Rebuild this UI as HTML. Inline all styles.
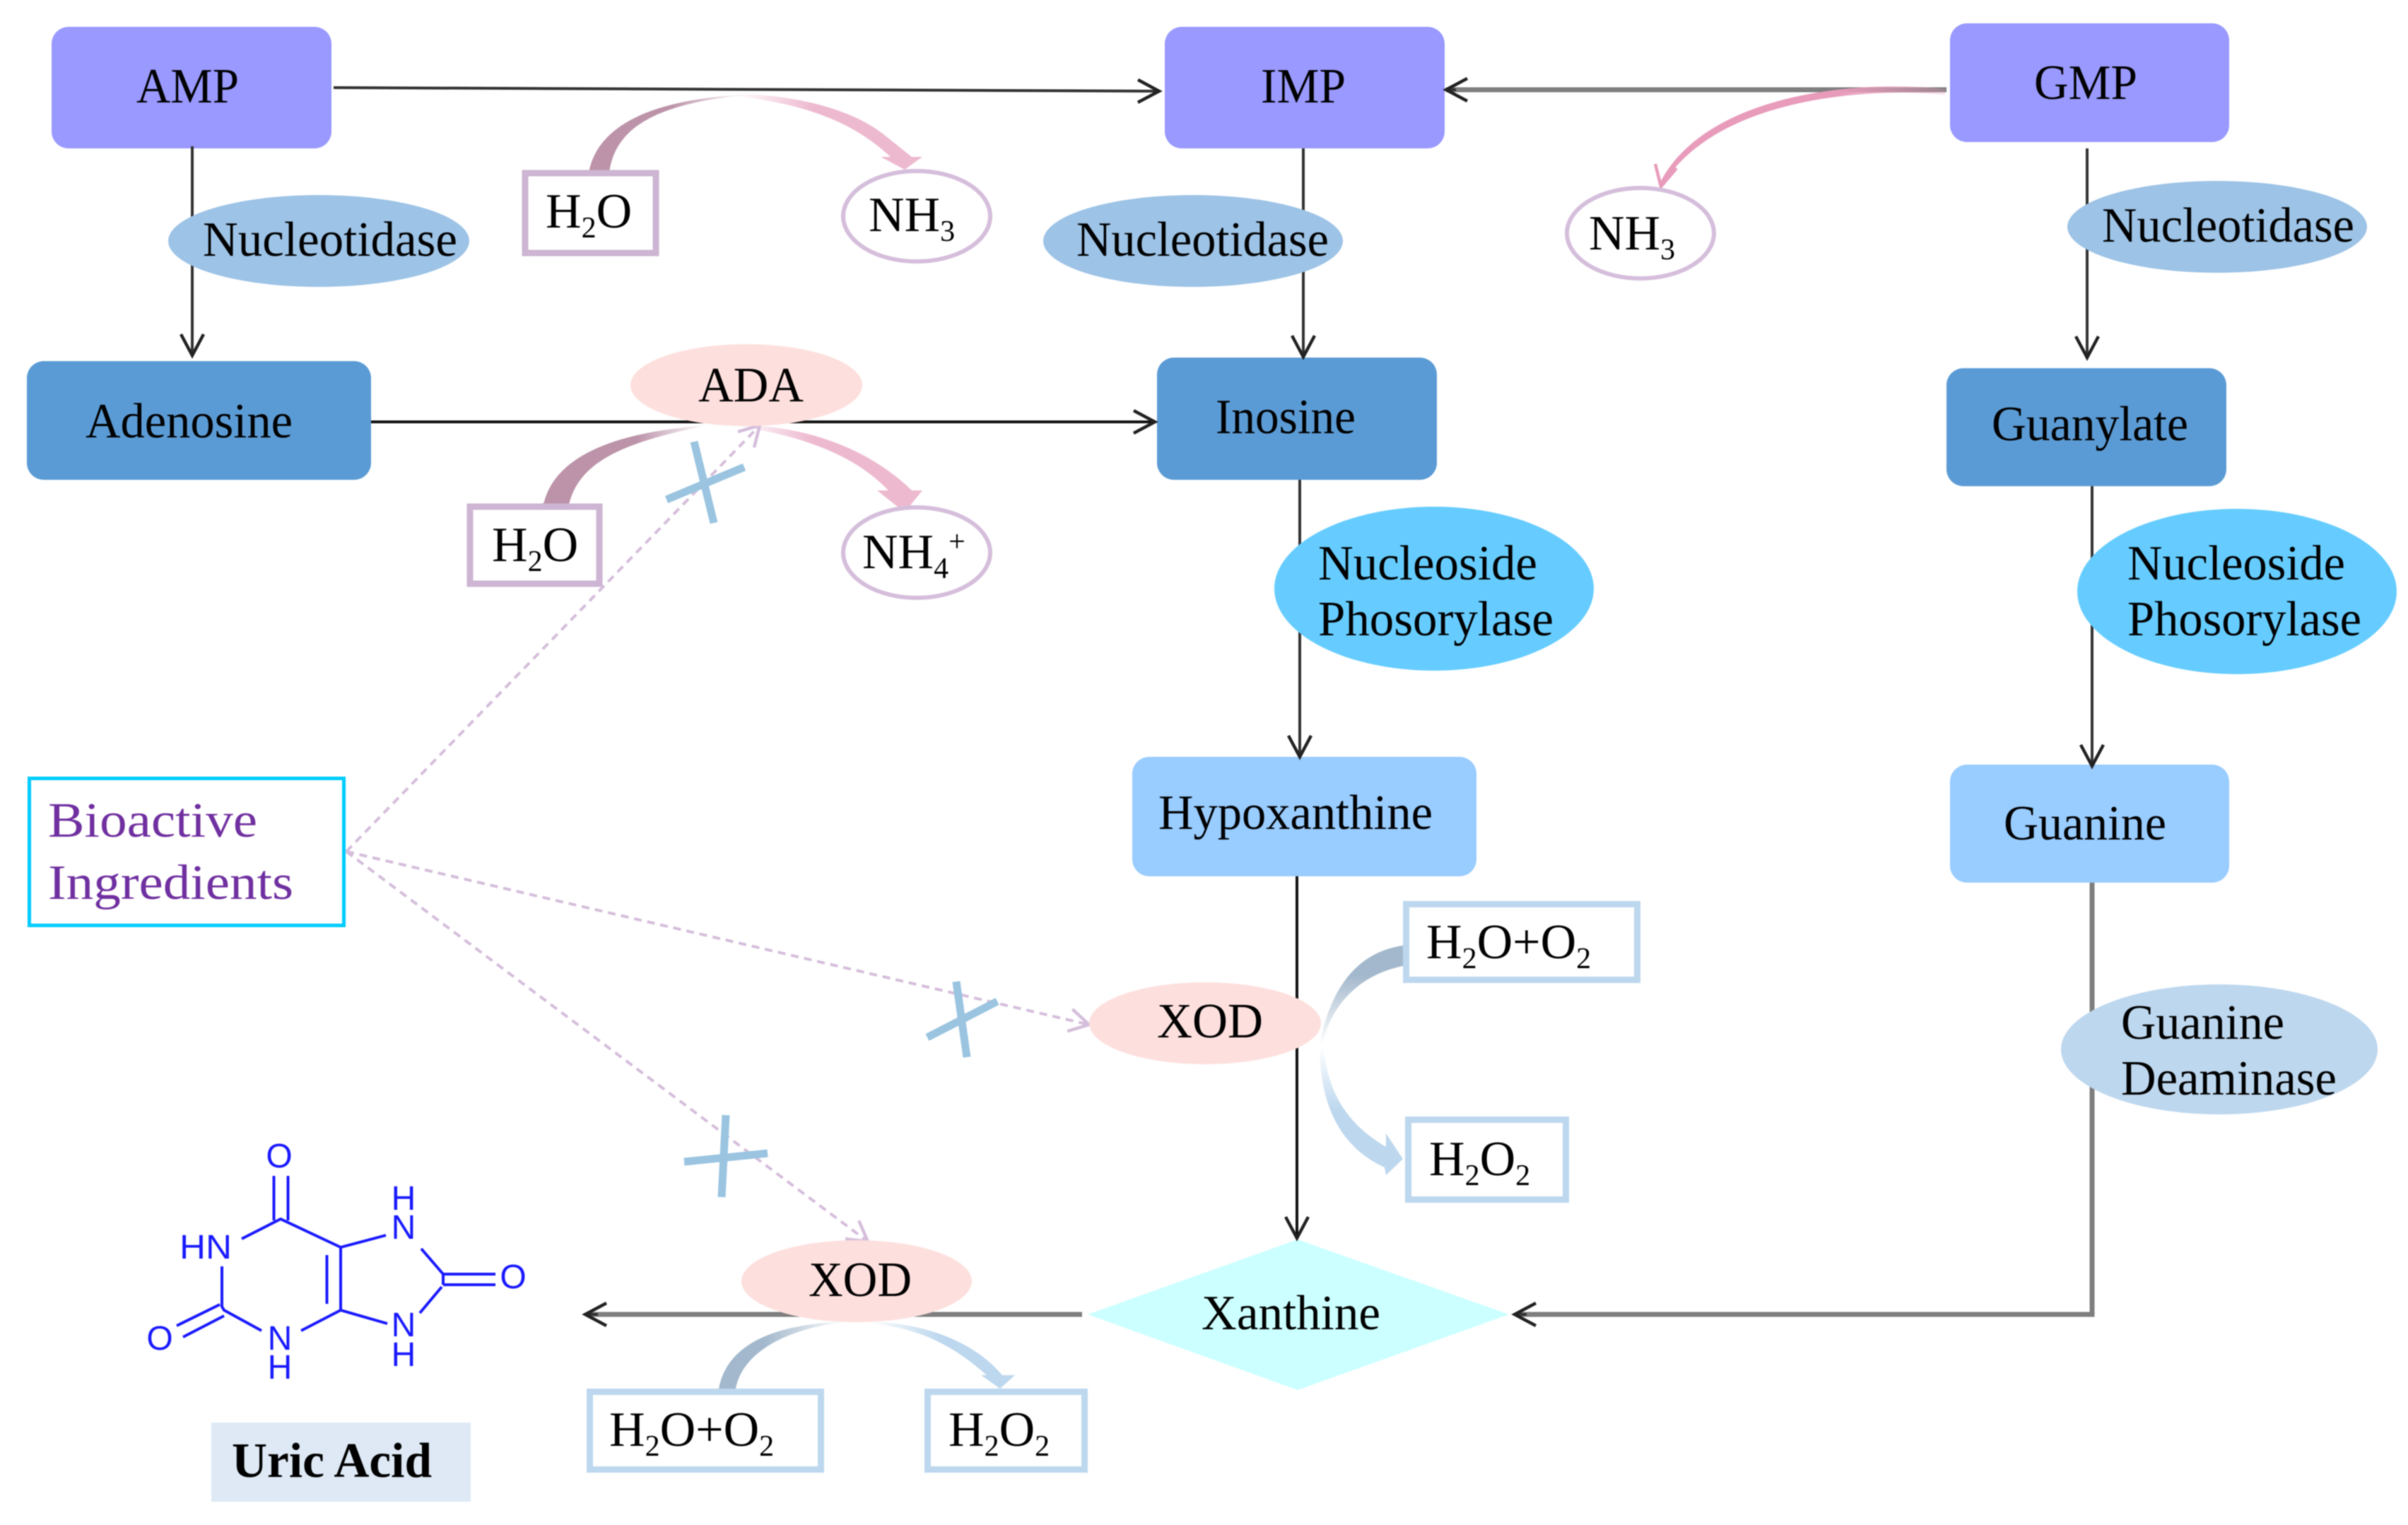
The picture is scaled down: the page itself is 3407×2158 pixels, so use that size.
<!DOCTYPE html>
<html><head><meta charset="utf-8"><style>
html,body{margin:0;padding:0;background:#fff}
svg{display:block;filter:blur(0.8px)}
text{font-family:"Liberation Serif",serif;font-size:70px;fill:#000}
.m{font-family:"Liberation Sans",sans-serif;font-size:48px;fill:#1a1aff;text-anchor:middle}
.s{font-size:42px}
.v{fill:#7030A0}
.l{stroke:#333;stroke-width:4;fill:none}
.g{stroke:#7f7f7f;stroke-width:7;fill:none}
.d{stroke:#D5BEDB;stroke-width:4;stroke-dasharray:11 8;fill:none}
.x{stroke:#9AC4E0;stroke-width:11;fill:none}
.b{stroke:#1a1aff;stroke-width:4;fill:none}
.cw{fill:#fff;stroke:#D5BEDB;stroke-width:6}
.pb{fill:#fff;stroke:#CDB5D3;stroke-width:9}
.bb{fill:#fff;stroke:#BDD7EE;stroke-width:9}
</style></head><body>
<svg width="3407" height="2158" viewBox="0 0 3407 2158" xmlns="http://www.w3.org/2000/svg">
<defs>
<marker id="a" markerUnits="userSpaceOnUse" markerWidth="44" markerHeight="44" refX="38" refY="22" orient="auto"><path d="M8,6 L38,22 L8,38" fill="none" stroke="#222" stroke-width="4.5"/></marker>
<marker id="da" markerUnits="userSpaceOnUse" markerWidth="44" markerHeight="44" refX="38" refY="22" orient="auto"><path d="M10,6 L38,22 L10,38" fill="none" stroke="#D5BEDB" stroke-width="4.5"/></marker>
<linearGradient id="p1" gradientUnits="userSpaceOnUse" x1="950" y1="0" x2="1060" y2="0"><stop offset="0" stop-color="#BC93A9"/><stop offset="1" stop-color="#BC93A9" stop-opacity="0"/></linearGradient>
<linearGradient id="p2" gradientUnits="userSpaceOnUse" x1="1040" y1="0" x2="1150" y2="0"><stop offset="0" stop-color="#EDB9CF" stop-opacity="0"/><stop offset="1" stop-color="#EDB9CF"/></linearGradient>
<linearGradient id="p3" gradientUnits="userSpaceOnUse" x1="900" y1="0" x2="1000" y2="0"><stop offset="0" stop-color="#BC93A9"/><stop offset="1" stop-color="#BC93A9" stop-opacity="0"/></linearGradient>
<linearGradient id="g1" gradientUnits="userSpaceOnUse" x1="0" y1="1380" x2="0" y2="1478"><stop offset="0" stop-color="#A3B8CC"/><stop offset="1" stop-color="#A3B8CC" stop-opacity="0"/></linearGradient>
<linearGradient id="g2" gradientUnits="userSpaceOnUse" x1="0" y1="1482" x2="0" y2="1570"><stop offset="0" stop-color="#BDD7EE" stop-opacity="0"/><stop offset="1" stop-color="#BDD7EE"/></linearGradient>
<linearGradient id="g3" gradientUnits="userSpaceOnUse" x1="1080" y1="0" x2="1200" y2="0"><stop offset="0" stop-color="#A3B8CC"/><stop offset="1" stop-color="#A3B8CC" stop-opacity="0"/></linearGradient>
<linearGradient id="g4" gradientUnits="userSpaceOnUse" x1="1230" y1="0" x2="1330" y2="0"><stop offset="0" stop-color="#BDD7EE" stop-opacity="0"/><stop offset="1" stop-color="#BDD7EE"/></linearGradient>
<linearGradient id="p4" gradientUnits="userSpaceOnUse" x1="2750" y1="0" x2="2600" y2="0"><stop offset="0" stop-color="#E89BBB" stop-opacity="0.3"/><stop offset="1" stop-color="#E89BBB"/></linearGradient>
</defs>

<!-- boxes -->
<rect x="73" y="38" width="396" height="172" rx="24" fill="#9999FF"/>
<rect x="1648" y="38" width="396" height="172" rx="24" fill="#9999FF"/>
<rect x="2759" y="33" width="395" height="168" rx="24" fill="#9999FF"/>
<rect x="38" y="511" width="487" height="168" rx="24" fill="#5B9BD5"/>
<rect x="1637" y="506" width="396" height="173" rx="24" fill="#5B9BD5"/>
<rect x="2754" y="521" width="396" height="167" rx="24" fill="#5B9BD5"/>
<rect x="1602" y="1071" width="487" height="169" rx="24" fill="#99CCFF"/>
<rect x="2759" y="1082" width="395" height="167" rx="24" fill="#99CCFF"/>
<polygon points="1539,1860 1836,1754 2135,1860 1836,1967" fill="#CCFFFF"/>

<!-- connector lines -->
<path class="l" d="M472,124 L1640,129" marker-end="url(#a)"/>
<path class="g" d="M2754,127 L2046,127"/>
<path class="l" d="M2060,127 L2046,127" marker-end="url(#a)"/>
<path class="l" d="M272,207 V503" marker-end="url(#a)"/>
<path class="l" d="M1844,210 V505" marker-end="url(#a)"/>
<path class="l" d="M2953,210 V506" marker-end="url(#a)"/>
<path class="l" style="stroke:#111" d="M525,597 H1634" marker-end="url(#a)"/>
<path class="l" d="M1839,679 V1071" marker-end="url(#a)"/>
<path class="l" d="M2960,688 V1084" marker-end="url(#a)"/>
<path class="l" style="stroke:#111" d="M1835,1240 V1752" marker-end="url(#a)"/>
<path class="g" d="M2960,1249 V1860 H2146"/>
<path class="l" d="M2160,1860 H2143" marker-end="url(#a)"/>
<path class="g" d="M1531,1860 H832"/>
<path class="l" d="M846,1860 H828" marker-end="url(#a)"/>

<!-- curved bands -->
<path fill="url(#p1)" d="M833,245 C842,190 900,140 1060,134 C940,145 870,175 862,245Z"/>
<path fill="url(#p2)" d="M1040,133 C1110,133 1200,150 1250,190 L1290,222 L1305,222 L1280,240 L1246,222 L1260,222 C1225,190 1170,150 1040,136Z"/>
<path fill="url(#p3)" d="M767,726 C775,650 860,612 1000,602 C890,625 812,650 803,726Z"/>
<path fill="url(#p2)" d="M1050,602 C1130,602 1225,630 1290,694 L1305,694 L1280,725 L1241,694 L1257,694 C1215,650 1150,620 1050,604Z"/>
<path fill="#BC93A9" d="M767,712 H803 V726 H767Z"/>
<path fill="url(#p4)" d="M2752,126 C2630,112 2410,132 2347,262 L2351,264 C2420,146 2620,122 2752,134Z"/>
<path fill="none" stroke="#E89BBB" stroke-width="4.5" d="M2342,232 L2350,264 L2372,238"/>
<path fill="url(#g1)" d="M1985,1338 C1930,1346 1885,1385 1867,1478 L1871,1478 C1885,1415 1930,1378 1985,1367Z"/>
<path fill="url(#g2)" d="M1867,1482 C1868,1570 1900,1625 1959,1652 L1961,1663 L1985,1640 L1961,1604 L1961,1623 C1905,1590 1878,1545 1873,1482Z"/>
<path fill="url(#g3)" d="M1017,1965 C1028,1905 1090,1873 1200,1870 C1110,1880 1050,1915 1041,1965Z"/>
<path fill="url(#g4)" d="M1230,1870 C1310,1872 1380,1900 1418,1946 L1436,1946 L1415,1965 L1388,1946 L1396,1946 C1350,1905 1300,1878 1230,1873Z"/>

<!-- dashed inhibition lines -->
<path class="d" d="M490,1205 L1075,602" marker-end="url(#da)"/>
<path class="d" d="M490,1205 L1541,1450" marker-end="url(#da)"/>
<path class="d" d="M490,1205 L1228,1757" marker-end="url(#da)"/>
<path class="x" d="M982,625 L1010,740 M943,707 L1053,661"/>
<path class="x" d="M1353,1389 L1368,1496 M1312,1468 L1411,1417"/>
<path class="x" d="M1027,1578 L1021,1694 M968,1644 L1086,1632"/>

<!-- ellipses -->
<ellipse cx="451" cy="341" rx="213" ry="65" fill="#9DC3E6"/>
<ellipse cx="1688" cy="341" rx="212" ry="65" fill="#9DC3E6"/>
<ellipse cx="3137" cy="321" rx="212" ry="65" fill="#9DC3E6"/>
<ellipse cx="1056" cy="545" rx="164" ry="58" fill="#FDE0DE"/>
<ellipse cx="2029" cy="833" rx="226" ry="116" fill="#66CCFF"/>
<ellipse cx="3165" cy="837" rx="226" ry="117" fill="#66CCFF"/>
<ellipse cx="1705" cy="1448" rx="164" ry="58" fill="#FDE0DE"/>
<ellipse cx="1212" cy="1813" rx="163" ry="58" fill="#FDE0DE"/>
<ellipse cx="3140" cy="1485" rx="224" ry="92" fill="#BDD7EE"/>
<ellipse class="cw" cx="1297" cy="306" rx="104" ry="64"/>
<ellipse class="cw" cx="1297" cy="782" rx="104" ry="64"/>
<ellipse class="cw" cx="2321" cy="330" rx="104" ry="64"/>

<!-- label boxes -->
<rect class="pb" x="743" y="245" width="185" height="113"/>
<rect class="pb" x="665" y="717" width="183" height="109"/>
<rect class="bb" x="1989.5" y="1279.5" width="327" height="107"/>
<rect class="bb" x="1992.5" y="1584.5" width="223" height="113"/>
<rect class="bb" x="834.5" y="1969.5" width="327" height="110"/>
<rect class="bb" x="1312.5" y="1969.5" width="222" height="110"/>
<rect x="41.5" y="1101.5" width="445" height="208" fill="#fff" stroke="#00CCFF" stroke-width="5"/>
<rect x="299" y="2013" width="367" height="112" fill="#DEE9F5"/>

<!-- text -->
<text x="193" y="145" textLength="145" lengthAdjust="spacingAndGlyphs">AMP</text>
<text x="1784" y="145" textLength="120" lengthAdjust="spacingAndGlyphs">IMP</text>
<text x="2878" y="140" textLength="146" lengthAdjust="spacingAndGlyphs">GMP</text>
<text x="287" y="362" textLength="360" lengthAdjust="spacingAndGlyphs">Nucleotidase</text>
<text x="1523" y="362" textLength="357" lengthAdjust="spacingAndGlyphs">Nucleotidase</text>
<text x="2974" y="342" textLength="357" lengthAdjust="spacingAndGlyphs">Nucleotidase</text>
<text x="121" y="619" textLength="293" lengthAdjust="spacingAndGlyphs">Adenosine</text>
<text x="988" y="568" textLength="149" lengthAdjust="spacingAndGlyphs">ADA</text>
<text x="1720" y="613" textLength="198" lengthAdjust="spacingAndGlyphs">Inosine</text>
<text x="2818" y="623" textLength="278" lengthAdjust="spacingAndGlyphs">Guanylate</text>
<text x="1865" y="820" textLength="310" lengthAdjust="spacingAndGlyphs">Nucleoside</text>
<text x="1865" y="899" textLength="333" lengthAdjust="spacingAndGlyphs">Phosorylase</text>
<text x="3010" y="820" textLength="308" lengthAdjust="spacingAndGlyphs">Nucleoside</text>
<text x="3010" y="899" textLength="331" lengthAdjust="spacingAndGlyphs">Phosorylase</text>
<text x="1639" y="1173" textLength="388" lengthAdjust="spacingAndGlyphs">Hypoxanthine</text>
<text x="2835" y="1188" textLength="230" lengthAdjust="spacingAndGlyphs">Guanine</text>
<text x="3001" y="1470" textLength="231" lengthAdjust="spacingAndGlyphs">Guanine</text>
<text x="3001" y="1549" textLength="305" lengthAdjust="spacingAndGlyphs">Deaminase</text>
<text x="1637" y="1468" textLength="150" lengthAdjust="spacingAndGlyphs">XOD</text>
<text x="1144" y="1834" textLength="146" lengthAdjust="spacingAndGlyphs">XOD</text>
<text x="1700" y="1881" textLength="253" lengthAdjust="spacingAndGlyphs">Xanthine</text>
<text class="v" x="68" y="1184" textLength="296" lengthAdjust="spacingAndGlyphs">Bioactive</text>
<text class="v" x="68" y="1272" textLength="347" lengthAdjust="spacingAndGlyphs">Ingredients</text>
<text x="328" y="2090" textLength="283" lengthAdjust="spacingAndGlyphs" font-weight="bold">Uric Acid</text>

<text x="772" y="322">H<tspan class="s" dy="14">2</tspan><tspan dy="-14">O</tspan></text>
<text x="696" y="794">H<tspan class="s" dy="14">2</tspan><tspan dy="-14">O</tspan></text>
<text x="1229" y="327">NH<tspan class="s" dy="14">3</tspan></text>
<text x="2248" y="353">NH<tspan class="s" dy="14">3</tspan></text>
<text x="1220" y="804">NH<tspan class="s" dy="14">4</tspan><tspan class="s" dy="-38">+</tspan></text>
<text x="2018" y="1356">H<tspan class="s" dy="14">2</tspan><tspan dy="-14">O+O</tspan><tspan class="s" dy="14">2</tspan></text>
<text x="2022" y="1663">H<tspan class="s" dy="14">2</tspan><tspan dy="-14">O</tspan><tspan class="s" dy="14">2</tspan></text>
<text x="862" y="2046">H<tspan class="s" dy="14">2</tspan><tspan dy="-14">O+O</tspan><tspan class="s" dy="14">2</tspan></text>
<text x="1342" y="2046">H<tspan class="s" dy="14">2</tspan><tspan dy="-14">O</tspan><tspan class="s" dy="14">2</tspan></text>

<!-- uric acid structure -->
<path class="b" d="M387.5,1664 V1727 M407.5,1664 V1727 M342,1753 L397,1725 L482,1765 V1854 M462.5,1776 V1845 M314,1792 V1849 L317,1854 L370,1883 M426,1883 L482,1854 L548,1873 M482,1765 L546,1748 M311,1846 L250,1876 M317,1862 L259,1892 M596,1767 L627,1803 V1818 M627,1803 H701 M627,1818 H701 M625,1821 L594,1858"/>
<text class="m" x="395" y="1652">O</text>
<text class="m" x="226" y="1910">O</text>
<text class="m" x="726" y="1823">O</text>
<text x="254" y="1781" style="font-family:'Liberation Sans',sans-serif;font-size:48px;fill:#1a1aff" textLength="74" lengthAdjust="spacingAndGlyphs">HN</text>
<text class="m" x="396" y="1910">N</text>
<text class="m" x="396" y="1951">H</text>
<text class="m" x="571" y="1753">N</text>
<text class="m" x="571" y="1712">H</text>
<text class="m" x="571" y="1891">N</text>
<text class="m" x="571" y="1933">H</text>
</svg>
</body></html>
